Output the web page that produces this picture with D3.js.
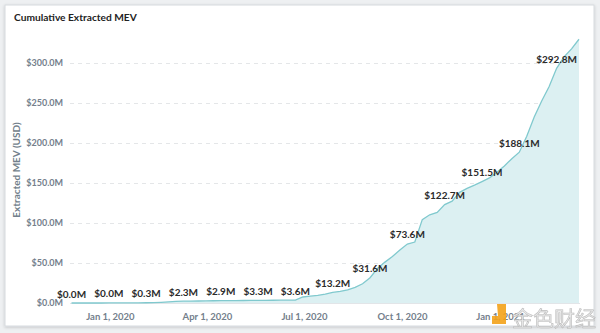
<!DOCTYPE html>
<html>
<head>
<meta charset="utf-8">
<script src="https://cdn.jsdelivr.net/npm/d3@7/dist/d3.min.js"></script>
<style>
  html, body { margin: 0; padding: 0; background: #eef0f2; }
  svg { display: block; font-family: Lato, "Open Sans", sans-serif; }
</style>
</head>
<body>
<svg id="chart" width="600" height="333"></svg>
<script>
// ---- data (weekly, starting 2019-11-26) ----
const startDate = "2019-11-26";
const weeklyValues = [
  0.0, 0.0, 0.0, 0.0, 0.0, 0.04, 0.05, 0.1, 0.15, 0.2,
  0.3, 0.5, 0.9, 1.5, 2.0, 2.3, 2.4, 2.5, 2.6, 2.8,
  2.9, 3.0, 3.05, 3.1, 3.2, 3.3, 3.35, 3.4, 3.5, 3.55,
  3.6, 7.5, 8.5, 9.5, 11.0, 13.2, 14.5, 16.5, 19.5, 24.0,
  31.6, 43.0, 51.0, 58.0, 66.0, 73.6, 76.0, 104.0, 110.0, 113.0,
  122.7, 127.0, 138.0, 143.0, 147.0, 151.5, 156.0, 163.0, 171.0, 180.0,
  188.1, 208.0, 232.0, 252.0, 270.0, 292.8, 307.0, 317.0, 329.0
];
const labelIndices = [0, 5, 10, 15, 20, 25, 30, 35, 40, 45, 50, 55, 60, 65];
const yTicks = [0, 50, 100, 150, 200, 250, 300];
const xTicks = ["2020-01-01", "2020-04-01", "2020-07-01", "2020-10-01", "2021-01-01"];
const title = "Cumulative Extracted MEV";
const yTitle = "Extracted MEV (USD)";

const parse = d3.utcParse("%Y-%m-%d");
const t0 = parse(startDate);
const data = weeklyValues.map((v, i) => ({ date: d3.utcDay.offset(t0, i * 7), value: v }));

const svg = d3.select("#chart");

// card
const defs = svg.append("defs");
const f = defs.append("filter").attr("id", "shadow").attr("x", "-5%").attr("y", "-5%").attr("width", "110%").attr("height", "110%");
f.append("feDropShadow").attr("dx", 0).attr("dy", 1).attr("stdDeviation", 1.5).attr("flood-color", "#000").attr("flood-opacity", 0.18);
svg.append("rect").attr("x", 0).attr("y", 0).attr("width", 600).attr("height", 333).attr("fill", "#eef0f2");
svg.append("rect").attr("x", 5).attr("y", 5).attr("width", 589).attr("height", 321)
  .attr("fill", "#fff").attr("stroke", "#d6dade").attr("stroke-width", 1).attr("filter", "url(#shadow)");

// scales
const x = d3.scaleUtc()
  .domain(d3.extent(data, d => d.date))
  .range([71.5, 579]);
const y = d3.scaleLinear().domain([0, 300]).range([303, 62.5]);

// title
svg.append("text").attr("x", 14).attr("y", 21).attr("font-size", 10.2).attr("font-weight", 700)
  .attr("fill", "#222").text(title);

// gridlines
const gridX0 = 70, gridX1 = 580;
svg.append("g").selectAll("line").data(yTicks.filter(d => d > 0)).join("line")
  .attr("x1", gridX0).attr("x2", gridX1)
  .attr("y1", d => Math.round(y(d)) + 0.5).attr("y2", d => Math.round(y(d)) + 0.5)
  .attr("stroke", "#e4e6e8").attr("stroke-dasharray", "4,4");

// y axis
const yAxis = svg.append("g").attr("transform", "translate(66,0)")
  .call(d3.axisLeft(y).tickValues(yTicks).tickSize(0).tickPadding(3).tickFormat(d => `$${d.toFixed(1)}M`));
yAxis.select(".domain").remove();
yAxis.selectAll("text").attr("font-size", 9).attr("font-weight", 700).attr("fill", "#74808c")
  .attr("font-family", "Lato, sans-serif");

// y title
svg.append("text").attr("transform", "translate(20,170) rotate(-90)").attr("text-anchor", "middle")
  .attr("font-size", 10).attr("font-weight", 700).attr("fill", "#727f8b").text(yTitle);

// area + line
const area = d3.area().x(d => x(d.date)).y0(y(0)).y1(d => y(d.value));
const line = d3.line().x(d => x(d.date)).y(d => y(d.value));
svg.append("path").datum(data).attr("d", area).attr("fill", "#dcf0f2");

// baseline
svg.append("line").attr("x1", gridX0).attr("x2", gridX1).attr("y1", 303.5).attr("y2", 303.5)
  .attr("stroke", "#e2e5e8");

svg.append("path").datum(data).attr("d", line).attr("fill", "none")
  .attr("stroke", "#80c9ce").attr("stroke-width", 1.3);

// x axis
const xAxis = svg.append("g").attr("transform", "translate(0,304)")
  .call(d3.axisBottom(x).tickValues(xTicks.map(parse)).tickSize(0).tickPadding(9)
    .tickFormat(d3.utcFormat("%b %-d, %Y")));
xAxis.select(".domain").remove();
xAxis.selectAll("text").attr("font-size", 9.5).attr("font-weight", 700).attr("fill", "#74808c")
  .attr("font-family", "Lato, sans-serif");

// data labels
svg.append("g").selectAll("text").data(labelIndices.map(i => data[i])).join("text")
  .attr("x", d => x(d.date)).attr("y", d => y(d.value) - 5.5)
  .attr("text-anchor", "middle").attr("font-size", 10).attr("font-weight", 700)
  .attr("fill", "#2b2b2b").text(d => `$${d.value.toFixed(1)}M`);

// watermark
const wm = svg.append("g").attr("opacity", 0.9);
wm.append("path").attr("d", "M497,304 h9 v20 h-14 v-8 h6 z").attr("fill", "#f3a21a");
wm.append("text").attr("x", 512).attr("y", 326).attr("font-size", 21)
  .attr("font-family", "'Noto Sans CJK SC', sans-serif").attr("fill", "#e6e6e6")
  .attr("stroke", "#b5b5b5").attr("stroke-width", 0.6).text("金色财经");
</script>
</body>
</html>
